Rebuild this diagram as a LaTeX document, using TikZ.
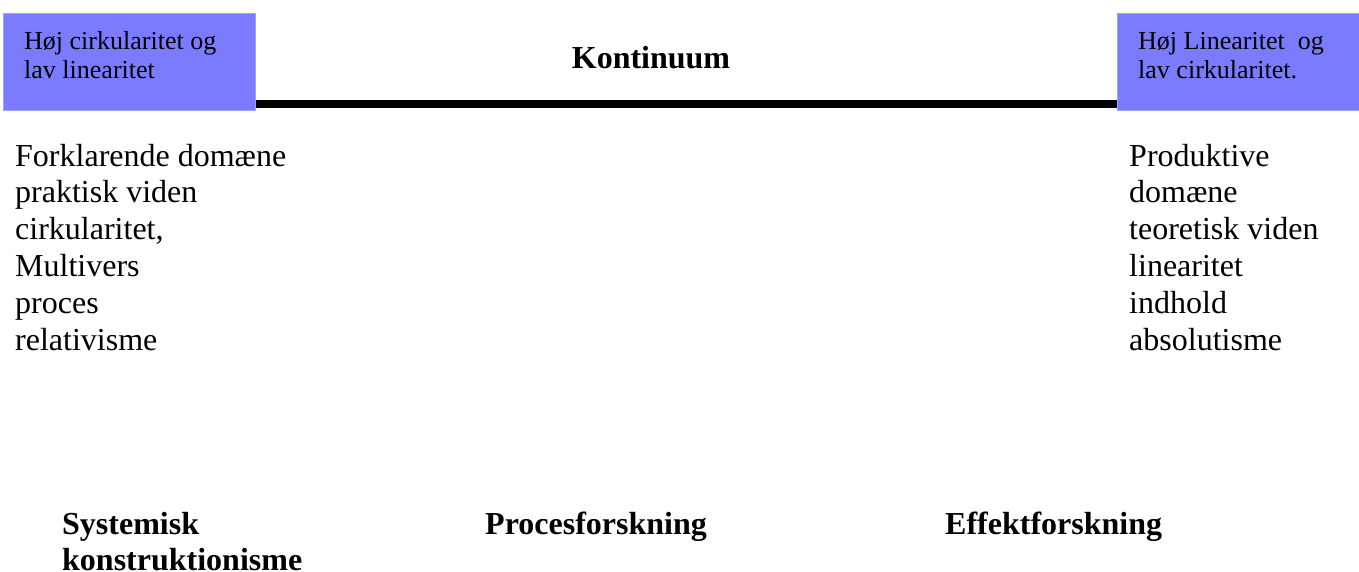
\documentclass[tikz,border=0pt]{standalone}
\usepackage{fontspec}
\setmainfont{Liberation Serif}
\definecolor{boxblue}{RGB}{123,123,255}
\definecolor{boxedge}{RGB}{160,160,255}
\begin{document}
\begin{tikzpicture}[x=1pt,y=-1pt,
  bluebox/.style={fill=boxblue,draw=boxedge,line width=0.8pt},
  boxtext/.style={anchor=base west,inner sep=0pt,align=left,font=\fontsize{26}{29.9}\selectfont},
  listtext/.style={anchor=base west,inner sep=0pt,align=left,font=\fontsize{32}{36.8}\selectfont},
  labeltext/.style={anchor=base west,inner sep=0pt,align=left,font=\bfseries\fontsize{32}{36}\selectfont}]
\useasboundingbox (0,0) rectangle (1359,572);
% boxes
\node[bluebox,anchor=north west,minimum width=252pt,minimum height=97pt,inner sep=0pt] (lbox) at (3,13) {};
\node[bluebox,anchor=north west,minimum width=242pt,minimum height=97pt,inner sep=0pt] (rbox) at (1117,13) {};
\draw[line width=8pt] ([yshift=7pt]lbox.south east) -- ([yshift=7pt]rbox.south west);
% anchors below are at the baseline of the last line
\node[boxtext] (ltext) at (24,79) {Høj cirkularitet og\\lav linearitet};
\node[boxtext] (rtext) at (1138,79) {Høj Linearitet\ \ og\\lav cirkularitet.};
\node[anchor=base,inner sep=0pt,font=\bfseries\fontsize{32}{36}\selectfont] (kont) at (651,69) {Kontinuum};
% lists
\node[listtext] (llist) at (15,350) {Forklarende domæne\\praktisk viden\\cirkularitet,\\Multivers\\proces\\relativisme};
\node[listtext] (rlist) at (1129,350) {Produktive\\domæne\\teoretisk viden\\linearitet\\indhold\\absolutisme};
% bottom labels
\node[labeltext] (sys) at (62,570) {Systemisk\\konstruktionisme};
\node[labeltext] (proc) at (485,534) {Procesforskning};
\node[labeltext] (eff) at (945,534) {Effektforskning};
\end{tikzpicture}
\end{document}
